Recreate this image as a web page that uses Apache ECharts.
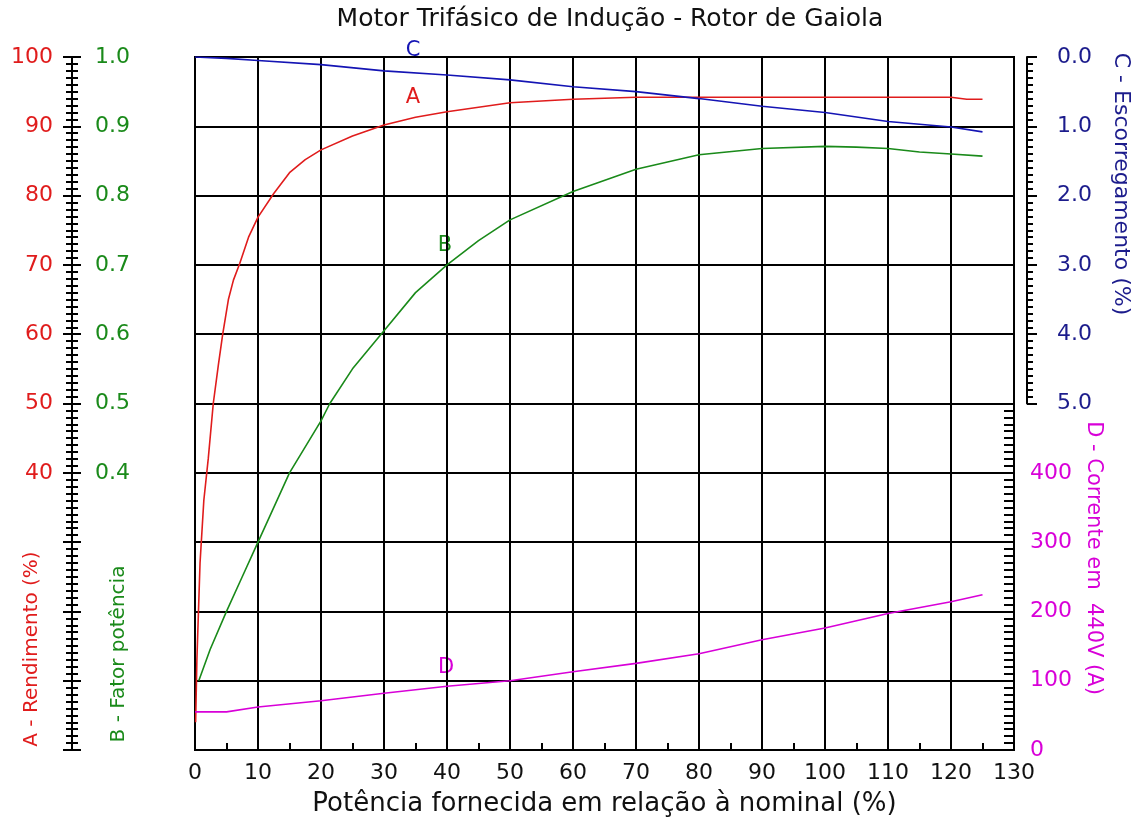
<!DOCTYPE html>
<html>
<head>
<meta charset="utf-8">
<title>Motor Trifásico de Indução - Rotor de Gaiola</title>
<script src="https://cdn.jsdelivr.net/npm/echarts@6/dist/echarts.min.js"></script>
<style>
  html, body { margin: 0; padding: 0; background: #fff; }
  #chart { width: 1139px; height: 823px; }
</style>
</head>
<body>
<div id="chart"></div>
<script>
// Curva A - Rendimento (%)
const potA = [0.1, 0.3, 0.8, 1.4, 2.1, 2.9, 3.7, 4.4, 5.3, 6.1, 7.1, 8.5, 10, 12.5, 15, 17.5, 20, 25, 30, 35, 40, 50, 60, 70, 80, 90, 100, 110, 120, 122.5, 125];
const rendimento = [4, 13, 27, 36, 42, 50, 55.5, 60, 65, 67.8, 70.2, 74, 76.9, 80.3, 83.3, 85.2, 86.6, 88.6, 90.2, 91.3, 92.1, 93.4, 93.9, 94.2, 94.2, 94.2, 94.2, 94.2, 94.2, 93.9, 93.9];

// Curva B - Fator de potência
const potB = [0.6, 2.4, 5, 7.5, 10, 15, 20, 21.4, 25, 30, 35, 40, 45, 50, 60, 70, 80, 90, 100, 105, 110, 115, 120, 125];
const fatorPotencia = [0.10, 0.145, 0.20, 0.25, 0.30, 0.40, 0.475, 0.50, 0.55, 0.605, 0.66, 0.70, 0.735, 0.765, 0.806, 0.838, 0.859, 0.868, 0.871, 0.870, 0.868, 0.863, 0.860, 0.857];

// Curva C - Escorregamento (%)
const potC = [0, 5, 10, 20, 30, 40, 50, 60, 70, 80, 90, 100, 110, 120, 125];
const escorregamento = [0, 0.02, 0.05, 0.11, 0.2, 0.26, 0.33, 0.43, 0.5, 0.6, 0.71, 0.8, 0.93, 1.01, 1.08];

// Curva D - Corrente em 440V (A)
const potD = [0, 5, 10, 20, 30, 40, 50, 60, 70, 80, 90, 100, 110, 120, 125];
const corrente = [55, 55, 62, 71, 82, 92, 100, 113, 125, 139, 159, 176, 197, 214, 224];

// Cores
const vermelho = '#e01c1c';
const verde = '#1a8a1a';
const azul = '#1414b4';
const azulTexto = '#1c1c8c';
const magenta = '#d800d8';
const fonte = '"DejaVu Sans", Verdana, sans-serif';

function pares(xs, ys) {
    return xs.map((x, i) => [x, ys[i]]);
}

const chart = echarts.init(document.getElementById('chart'));

const eixoPreto = { show: true, onZero: false, lineStyle: { color: '#000', width: 2 } };
const tracoPreto = { color: '#000', width: 2 };

const option = {
    animation: false,
    backgroundColor: '#fff',
    title: {
        text: 'Motor Trifásico de Indução - Rotor de Gaiola',
        left: 605,
        textAlign: 'center',
        top: 2,
        textStyle: { fontFamily: fonte, fontSize: 25, fontWeight: 'normal', color: '#111' }
    },
    grid: [
        { left: 195, right: 125, top: 57, bottom: 73, show: true, borderColor: '#000', borderWidth: 2, backgroundColor: 'transparent' },
        { left: 195, right: 125, top: 57, height: 346.5 },
        { left: 195, right: 125, top: 403.5, bottom: 73 }
    ],
    xAxis: [
        {
            gridIndex: 0, type: 'value', min: 0, max: 130, interval: 10,
            axisLine: eixoPreto,
            axisTick: { show: true, inside: true, length: 1, lineStyle: tracoPreto },
            minorTick: { show: true, splitNumber: 2, length: 7, lineStyle: tracoPreto },
            splitLine: { show: true, lineStyle: { color: '#000', width: 2 } },
            axisLabel: { color: '#111', fontFamily: fonte, fontSize: 22, margin: 12 },
            name: 'Potência fornecida em relação à nominal (%)',
            nameLocation: 'middle',
            nameGap: 41,
            nameTextStyle: { color: '#111', fontFamily: fonte, fontSize: 26 }
        },
        { gridIndex: 1, type: 'value', min: 0, max: 130, show: false },
        { gridIndex: 2, type: 'value', min: 0, max: 130, show: false }
    ],
    yAxis: [
        {
            // A - Rendimento, régua à esquerda (traços para fora)
            gridIndex: 0, type: 'value', position: 'left', offset: 123,
            min: 0, max: 100, interval: 10,
            axisLine: eixoPreto,
            axisTick: { show: true, length: 9, lineStyle: tracoPreto },
            minorTick: { show: true, splitNumber: 10, length: 6, lineStyle: tracoPreto },
            splitLine: { show: true, lineStyle: { color: '#000', width: 2 } },
            axisLabel: {
                color: vermelho, fontFamily: fonte, fontSize: 22, margin: 19,
                formatter: v => (v >= 40 ? String(v) : '')
            }
        },
        {
            // B - Fator de potência, mesma régua (traços para dentro)
            gridIndex: 0, type: 'value', position: 'left', offset: 123,
            min: 0, max: 1, interval: 0.1,
            axisLine: eixoPreto,
            axisTick: { show: true, inside: true, length: 9, lineStyle: tracoPreto },
            minorTick: { show: true, splitNumber: 10, length: 6, lineStyle: tracoPreto },
            splitLine: { show: false },
            axisLabel: {
                inside: true, color: verde, fontFamily: fonte, fontSize: 22, margin: 23,
                formatter: v => (v >= 0.4 - 1e-9 ? v.toFixed(1) : '')
            }
        },
        {
            // C - Escorregamento, metade superior à direita
            gridIndex: 1, type: 'value', position: 'right', offset: 13,
            min: 0, max: 5, interval: 1, inverse: true,
            axisLine: eixoPreto,
            axisTick: { show: true, length: 10, lineStyle: tracoPreto },
            minorTick: { show: true, splitNumber: 10, length: 6, lineStyle: tracoPreto },
            splitLine: { show: false },
            axisLabel: {
                color: azulTexto, fontFamily: fonte, fontSize: 22, margin: 30,
                formatter: v => v.toFixed(1)
            }
        },
        {
            // D - Corrente, metade inferior à direita
            gridIndex: 2, type: 'value', position: 'right', offset: 0,
            min: 0, max: 500, interval: 100,
            axisLine: { show: false, onZero: false },
            axisTick: { show: true, inside: true, length: 10, lineStyle: tracoPreto },
            minorTick: { show: true, splitNumber: 10, length: 10, lineStyle: tracoPreto },
            splitLine: { show: false },
            axisLabel: {
                color: magenta, fontFamily: fonte, fontSize: 22, margin: 16,
                formatter: v => (v < 500 ? String(v) : '')
            }
        }
    ],
    series: [
        {
            name: 'A', type: 'line', xAxisIndex: 0, yAxisIndex: 0,
            data: pares(potA, rendimento), showSymbol: false,
            lineStyle: { color: vermelho, width: 1.6 }
        },
        {
            name: 'B', type: 'line', xAxisIndex: 0, yAxisIndex: 1,
            data: pares(potB, fatorPotencia), showSymbol: false,
            lineStyle: { color: verde, width: 1.6 }
        },
        {
            name: 'C', type: 'line', xAxisIndex: 1, yAxisIndex: 2,
            data: pares(potC, escorregamento), showSymbol: false,
            lineStyle: { color: azul, width: 1.6 }
        },
        {
            name: 'D', type: 'line', xAxisIndex: 2, yAxisIndex: 3,
            data: pares(potD, corrente), showSymbol: false,
            lineStyle: { color: magenta, width: 1.6 }
        }
    ],
    graphic: [
        // Nomes dos eixos (texto rotacionado)
        { type: 'text', x: 32, y: 649, rotation: Math.PI / 2, style: { text: 'A - Rendimento (%)', fill: vermelho, font: '20px ' + fonte, align: 'center', verticalAlign: 'middle' } },
        { type: 'text', x: 119, y: 654, rotation: Math.PI / 2, style: { text: 'B - Fator potência', fill: verde, font: '20px ' + fonte, align: 'center', verticalAlign: 'middle' } },
        { type: 'text', x: 1121, y: 184, rotation: -Math.PI / 2, style: { text: 'C - Escorregamento (%)', fill: azulTexto, font: '22px ' + fonte, align: 'center', verticalAlign: 'middle' } },
        { type: 'text', x: 1093, y: 558, rotation: -Math.PI / 2, style: { text: 'D - Corrente em  440V (A)', fill: magenta, font: '21px ' + fonte, align: 'center', verticalAlign: 'middle' } },
        // Rótulos das curvas
        { type: 'text', x: 413, y: 98, style: { text: 'A', fill: vermelho, font: '21px ' + fonte, align: 'center', verticalAlign: 'middle' } },
        { type: 'text', x: 445, y: 246, style: { text: 'B', fill: verde, font: '21px ' + fonte, align: 'center', verticalAlign: 'middle' } },
        { type: 'text', x: 413, y: 51, style: { text: 'C', fill: azul, font: '21px ' + fonte, align: 'center', verticalAlign: 'middle' } },
        { type: 'text', x: 446, y: 668, style: { text: 'D', fill: magenta, font: '21px ' + fonte, align: 'center', verticalAlign: 'middle' } }
    ]
};

chart.setOption(option);
</script>
</body>
</html>
